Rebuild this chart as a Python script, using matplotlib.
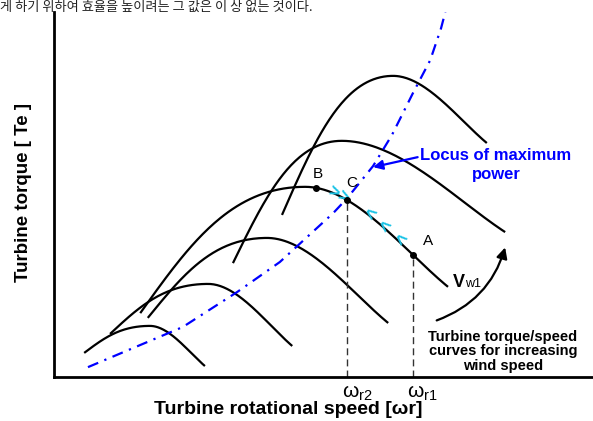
import numpy as np
import matplotlib.pyplot as plt

plt.rcParams['font.family'] = ['Liberation Sans', 'DejaVu Sans']
plt.rcParams['mathtext.default'] = 'regular'

# torque/speed curves for increasing wind speed (speed, torque)
curve_start = [(0.56, 0.66), (1.04, 1.18), (1.74, 1.62), (1.60, 1.75), (3.32, 3.12), (4.23, 4.44)]
curve_peak = [(1.78, 1.40), (2.86, 2.55), (3.95, 3.81), (4.66, 5.21), (5.34, 6.47), (6.29, 8.25)]
curve_end = [(2.80, 0.30), (4.42, 0.85), (6.20, 1.48), (7.31, 2.47), (8.37, 3.97), (8.03, 6.41)]
vw1_curve = 3

# locus of maximum power
locus_speed = [0.63, 2.39, 3.40, 4.19, 5.18, 5.44, 5.92, 6.27, 6.66, 6.98, 7.18, 7.26]
locus_torque = [0.27, 1.37, 2.33, 3.15, 4.49, 4.90, 5.78, 6.63, 7.78, 8.68, 9.55, 10.0]

# operating points on the Vw1 curve
point_names = ['B', 'C', 'A']
point_speed = [4.86, 5.44, 6.66]
omega_labels = {'C': r'$\omega_{r2}$', 'A': r'$\omega_{r1}$'}

# cyan direction marks along the Vw1 curve
fwd_marks = [5.18, 5.36]
back_marks = [5.83, 6.10, 6.38]


def bezier(p0, p1, p2, p3, n=80):
    t = np.linspace(0, 1, n)[:, None]
    p0, p1, p2, p3 = map(np.asarray, (p0, p1, p2, p3))
    return ((1 - t) ** 3 * p0 + 3 * (1 - t) ** 2 * t * p1
            + 3 * (1 - t) * t ** 2 * p2 + t ** 3 * p3)


def torque_curve(s, p, e):
    dx, dy = p[0] - s[0], p[1] - s[1]
    left = bezier(s, (s[0] + 0.3 * dx, s[1] + 0.55 * dy), (p[0] - 0.45 * dx, p[1]), p)
    dx, dy = e[0] - p[0], p[1] - e[1]
    right = bezier(p, (p[0] + 0.35 * dx, p[1]), (e[0] - 0.3 * dx, e[1] + 0.35 * dy), e)
    return np.vstack([left, right[1:]])


fig = plt.figure(figsize=(5.93, 4.21), dpi=100)
ax = fig.add_axes([54 / 593, 44 / 421, 539 / 593, 365 / 421])
ax.set_xlim(0, 10)
ax.set_ylim(0, 10)
for side in ['top', 'right']:
    ax.spines[side].set_visible(False)
for side in ['left', 'bottom']:
    ax.spines[side].set_linewidth(2)
ax.set_xticks([])
ax.set_yticks([])

curves = []
for s, p, e in zip(curve_start, curve_peak, curve_end):
    xy = torque_curve(s, p, e)
    curves.append(xy)
    ax.plot(xy[:, 0], xy[:, 1], color='black', lw=1.6, solid_capstyle='butt')

ax.plot(locus_speed, locus_torque, color='blue', lw=1.6, dashes=(5, 3, 1, 3))

vw = curves[vw1_curve]
ipk = np.argmax(vw[:, 1])
right = vw[ipk:]
left = vw[:ipk + 1]


def on_curve(x):
    seg = left if x < vw[ipk, 0] else right
    order = np.argsort(seg[:, 0])
    return np.interp(x, seg[order, 0], seg[order, 1])


label_shift = {'B': (0.03, 0.18), 'C': (0.08, 0.28), 'A': (0.18, 0.18)}
for name, x in zip(point_names, point_speed):
    y = on_curve(x)
    ax.plot([x], [y], 'o', color='black', ms=4, zorder=5)
    sx, sy = label_shift[name]
    ax.text(x + sx, y + sy, name, fontsize=11, ha='left' if name == 'A' else 'center',
            va='bottom')
    if name in omega_labels:
        ax.vlines(x, 0, y, colors='#333333', lw=1.0, linestyles=(0, (5, 3)))
        ax.text(x + 0.18, -0.45, omega_labels[name], fontsize=15, ha='center', va='center',
                clip_on=False)


def mark_angle(x):
    p1 = ax.transData.transform((x - 0.05, on_curve(x - 0.05)))
    p2 = ax.transData.transform((x + 0.05, on_curve(x + 0.05)))
    return np.degrees(np.arctan2(p2[1] - p1[1], p2[0] - p1[0]))


for x in fwd_marks:
    ax.text(x, on_curve(x), '>', color='#19c3e6', fontsize=13, fontweight='bold',
            ha='center', va='center', rotation=mark_angle(x), rotation_mode='anchor')
for x in back_marks:
    ax.text(x, on_curve(x), '<', color='#19c3e6', fontsize=13, fontweight='bold',
            ha='center', va='center', rotation=mark_angle(x), rotation_mode='anchor')

ax.annotate('Locus of maximum\npower', xy=(5.92, 5.75), xytext=(8.2, 5.81),
            color='blue', fontsize=12, fontweight='bold', ha='center', va='center',
            linespacing=1.3,
            arrowprops=dict(arrowstyle='-|>', color='blue', lw=1.6, mutation_scale=14,
                            shrinkA=0, shrinkB=0, relpos=(0.0, 0.75)))

ax.text(7.40, 2.47, 'V', fontsize=13, fontweight='bold', va='baseline')
ax.text(7.62, 2.47, 'w1', fontsize=9, va='baseline')

ax.annotate('', xy=(8.37, 3.55), xytext=(7.1, 1.55),
            arrowprops=dict(arrowstyle='-|>', color='black', lw=1.6, mutation_scale=16,
                            connectionstyle='arc3,rad=0.25', shrinkA=0, shrinkB=0))
ax.text(8.33, 0.71, 'Turbine torque/speed\ncurves for increasing\nwind speed', fontsize=10.5,
        fontweight='bold', ha='center', va='center', linespacing=1.05)

fig.text(24 / 593, 1 - 193 / 421, 'Turbine torque [ Te ]', rotation=90, fontsize=13.5,
         fontweight='bold', ha='center', va='center')
fig.text(288 / 593, 1 - 410 / 421, 'Turbine rotational speed [ωr]', fontsize=14,
         fontweight='bold', ha='center', va='center')

fig.text(0.0, 1 - 1 / 421, '게 하기 위하여 효율을 높이려는 그 값은 이 상 없는 것이다.', fontsize=9.5,
         family=['Noto Sans CJK KR', 'DejaVu Sans'], ha='left', va='top', color='#222222')

fig.savefig('out.png', dpi=100)
